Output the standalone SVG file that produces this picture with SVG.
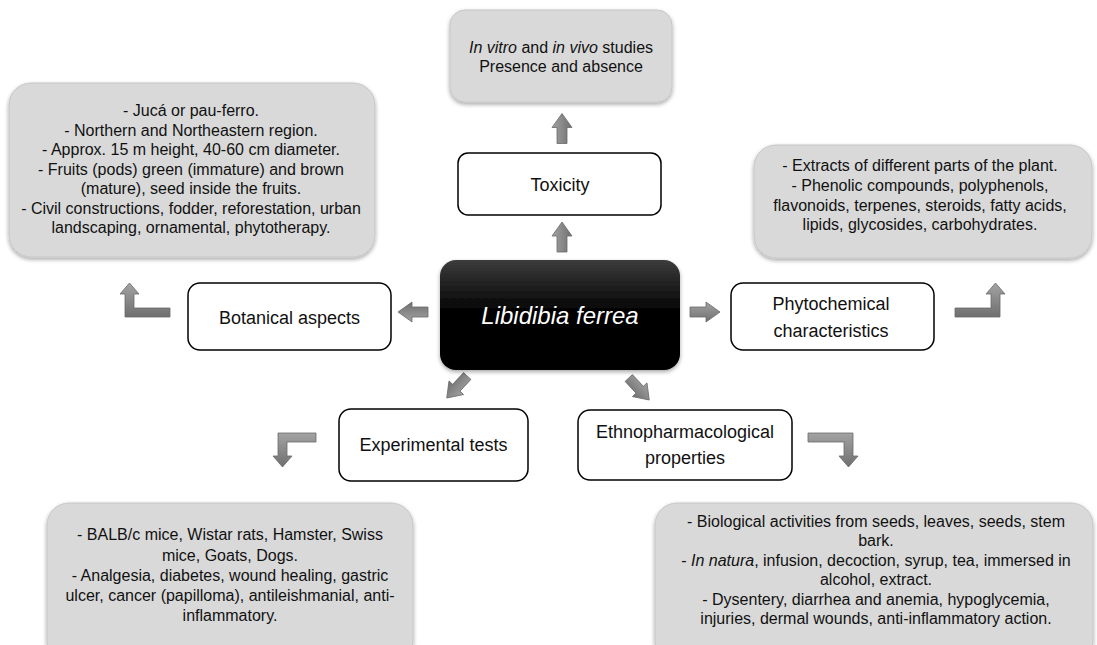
<svg xmlns="http://www.w3.org/2000/svg" xmlns:xlink="http://www.w3.org/1999/xlink" width="1097" height="645" viewBox="0 0 1097 645">
<defs>
<linearGradient id="arrowGrad" x1="0" y1="0" x2="0" y2="1">
<stop offset="0" stop-color="#a3a3a3"/>
<stop offset="1" stop-color="#6f6f6f"/>
</linearGradient>
<linearGradient id="centerGrad" x1="0" y1="0" x2="0" y2="1">
<stop offset="0" stop-color="#3c3c3c"/>
<stop offset="0.45" stop-color="#050505"/>
<stop offset="1" stop-color="#000000"/>
</linearGradient>
<filter id="shadow" x="-10%" y="-10%" width="120%" height="125%">
<feGaussianBlur in="SourceAlpha" stdDeviation="2"/>
<feOffset dx="0" dy="1.5" result="b"/>
<feComponentTransfer><feFuncA type="linear" slope="0.35"/></feComponentTransfer>
<feMerge><feMergeNode/><feMergeNode in="SourceGraphic"/></feMerge>
</filter>
<path id="arr" d="M-15,-5 L1,-5 L1,-10 L15,0 L1,10 L1,5 L-15,5 Z"/>
</defs>
<style>
.gray{fill:#d9d9d9;stroke:#c6c6c6;stroke-width:1;}
.white{fill:#ffffff;stroke:#000000;stroke-width:1.5;}
.arrow{fill:url(#arrowGrad);stroke:#6a6a6a;stroke-width:0.8;}
text{font-family:"Liberation Sans",Arial,sans-serif;fill:#111111;text-anchor:middle;}
.t16{font-size:16px;}
.t18{font-size:18px;}
.center{font-size:24px;font-style:italic;fill:#ffffff;}
</style>
<rect width="1097" height="645" fill="#ffffff"/>

<g id="connectors">
<use xlink:href="#arr" class="arrow" transform="translate(562,128.5) rotate(-90)"/>
<use xlink:href="#arr" class="arrow" transform="translate(562,237) rotate(-90)"/>
<use xlink:href="#arr" class="arrow" transform="translate(413,312) rotate(180)"/>
<use xlink:href="#arr" class="arrow" transform="translate(705,312)"/>
<use xlink:href="#arr" class="arrow" transform="translate(457,387) rotate(133)"/>
<use xlink:href="#arr" class="arrow" transform="translate(639,389) rotate(47)"/>
<path class="arrow" d="M170,308 L134,308 L134,294 L139,294 L129.5,283 L120,294 L125,294 L125,317 L170,317 Z"/>
<path class="arrow" d="M955,308 L991,308 L991,294 L986,294 L995.5,283 L1005,294 L1000,294 L1000,317 L955,317 Z"/>
<path class="arrow" d="M808,433 L853,433 L853,456 L858,456 L848.5,467 L839,456 L844,456 L844,442 L808,442 Z"/>
<path class="arrow" d="M316,433 L278,433 L278,456 L273,456 L282.5,467 L292,456 L287,456 L287,442 L316,442 Z"/>
</g>

<g id="toxicity-details">
<rect class="gray" x="450" y="10" width="222" height="92" rx="15" filter="url(#shadow)"/>
<text class="t16" x="561" y="53"><tspan font-style="italic">In vitro</tspan> and <tspan font-style="italic">in vivo</tspan> studies</text>
<text class="t16" x="561" y="72">Presence and absence</text>
</g>

<g id="toxicity">
<rect class="white" x="458" y="153" width="203" height="62" rx="10"/>
<text class="t18" x="560" y="191">Toxicity</text>
</g>

<g id="botanical-details">
<rect class="gray" x="9" y="83" width="366" height="174" rx="22" filter="url(#shadow)"/>
<text class="t16" x="191" y="116">- Jucá or pau-ferro.</text>
<text class="t16" x="191" y="135.5">- Northern and Northeastern region.</text>
<text class="t16" x="191" y="155">- Approx. 15 m height, 40-60 cm diameter.</text>
<text class="t16" x="191" y="174.5">- Fruits (pods) green (immature) and brown</text>
<text class="t16" x="191" y="194">(mature), seed inside the fruits.</text>
<text class="t16" x="191" y="213.5">- Civil constructions, fodder, reforestation, urban</text>
<text class="t16" x="191" y="233">landscaping, ornamental, phytotherapy.</text>
</g>

<g id="phytochemical-details">
<rect class="gray" x="754" y="145" width="338" height="113" rx="22" filter="url(#shadow)"/>
<text class="t16" x="920" y="171">- Extracts of different parts of the plant.</text>
<text class="t16" x="920" y="191">- Phenolic compounds, polyphenols,</text>
<text class="t16" x="920" y="211">flavonoids, terpenes, steroids, fatty acids,</text>
<text class="t16" x="920" y="230">lipids, glycosides, carbohydrates.</text>
</g>

<g id="libidibia-ferrea">
<rect x="440" y="260" width="240" height="110" rx="16" fill="url(#centerGrad)" filter="url(#shadow)"/>
<text class="center" x="560" y="324">Libidibia ferrea</text>
</g>

<g id="botanical-aspects">
<rect class="white" x="188" y="283" width="203" height="67" rx="12"/>
<text class="t18" x="289.5" y="324">Botanical aspects</text>
</g>

<g id="phytochemical">
<rect class="white" x="731" y="283" width="203" height="67" rx="12"/>
<text class="t18" x="831" y="310">Phytochemical</text>
<text class="t18" x="831" y="337">characteristics</text>
</g>

<g id="experimental-tests">
<rect class="white" x="339" y="409" width="189" height="72" rx="12"/>
<text class="t18" x="433.5" y="451">Experimental tests</text>
</g>

<g id="ethnopharmacological">
<rect class="white" x="578" y="410" width="214" height="70" rx="12"/>
<text class="t18" x="685" y="438">Ethnopharmacological</text>
<text class="t18" x="685" y="464">properties</text>
</g>

<g id="experimental-details">
<rect class="gray" x="47" y="503" width="366" height="160" rx="22" filter="url(#shadow)"/>
<text class="t16" x="230" y="540">- BALB/c mice, Wistar rats, Hamster, Swiss</text>
<text class="t16" x="230" y="561">mice, Goats, Dogs.</text>
<text class="t16" x="230" y="581">- Analgesia, diabetes, wound healing, gastric</text>
<text class="t16" x="230" y="601">ulcer, cancer (papilloma), antileishmanial, anti-</text>
<text class="t16" x="230" y="621">inflammatory.</text>
</g>

<g id="ethnopharmacological-details">
<rect class="gray" x="655" y="503" width="438" height="160" rx="22" filter="url(#shadow)"/>
<text class="t16" x="876" y="527">- Biological activities from seeds, leaves, seeds, stem</text>
<text class="t16" x="876" y="546">bark.</text>
<text class="t16" x="876" y="566">- <tspan font-style="italic">In natura</tspan>, infusion, decoction, syrup, tea, immersed in</text>
<text class="t16" x="876" y="585">alcohol, extract.</text>
<text class="t16" x="876" y="605">- Dysentery, diarrhea and anemia, hypoglycemia,</text>
<text class="t16" x="876" y="624">injuries, dermal wounds, anti-inflammatory action.</text>
</g>
</svg>
